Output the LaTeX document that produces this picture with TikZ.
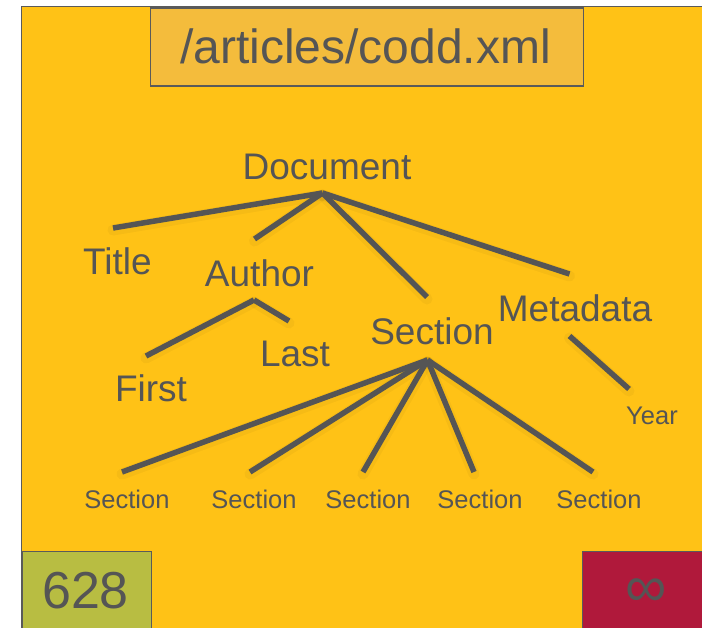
\documentclass[tikz,border=0pt]{standalone}
\usepackage{fontspec}
\setmainfont{Liberation Sans}
\definecolor{slidebg}{HTML}{FFC216}
\definecolor{headfill}{HTML}{F4BC3C}
\definecolor{numfill}{HTML}{B8BD42}
\definecolor{infill}{HTML}{B0193B}
\definecolor{ink}{HTML}{555555}
\definecolor{frame}{HTML}{5A5A5A}
\tikzset{
  big/.style={text=ink, inner sep=0pt, font=\fontsize{37}{40}\selectfont},
  small/.style={text=ink, inner sep=0pt, font=\fontsize{25.5}{28}\selectfont},
  edge/.style={draw=ink, line width=5.5pt, line cap=butt},
  halo/.style={draw=black, line width=11pt, line cap=round, opacity=0.035},
  panel/.style={draw=frame, line width=1.5pt},
}
\begin{document}
\begin{tikzpicture}[x=1pt, y=-1pt]
  \useasboundingbox (0,0) rectangle (702,627);
  % slide background and frame
  \fill[white] (0,0) rectangle (702,627);
  \fill[slidebg] (21.5,6.5) rectangle (703,628);
  \draw[panel] (21.5,628) -- (21.5,6.5) -- (703,6.5);
  % header box
  \node[panel, fill=headfill, minimum width=433pt, minimum height=78pt, anchor=north west,
        inner sep=0pt] (head) at (149.5,7) {};
  \node[text=ink, font=\fontsize{48}{52}\selectfont] (path) at (365.5,46) {/articles/codd.xml};
  % corner boxes
  \node[panel, fill=numfill, minimum width=129pt, minimum height=80pt, anchor=north west,
        inner sep=0pt] (numbox) at (21.5,550.5) {};
  \node[text=ink, font=\fontsize{52}{56}\selectfont] (num) at (85.5,591) {628};
  \node[panel, fill=infill, minimum width=125pt, minimum height=80pt, anchor=north west,
        inner sep=0pt] (infbox) at (581.5,550.5) {};
  \node[text=ink, font=\fontsize{58}{62}\selectfont] (inf) at (646,593) {∞};

  % tree labels
  \node[big] (doc) at (327,167) {Document};
  \node[big] (title) at (117.5,261) {Title};
  \node[big] (author) at (259.5,273) {Author};
  \node[big] (first) at (151,388) {First};
  \node[big] (last) at (295,354) {Last};
  \node[big] (sec) at (432,331) {Section};
  \node[big] (meta) at (575,308) {Metadata};
  \node[small] (year) at (652,416) {Year};
  \node[small] (s1) at (127,499) {Section};
  \node[small] (s2) at (254,499) {Section};
  \node[small] (s3) at (368,499) {Section};
  \node[small] (s4) at (480,499) {Section};
  \node[small] (s5) at (599,499) {Section};

  % hubs and branch ends
  \coordinate (docHub) at (322.5,193);
  \coordinate (titleEnd) at (113,228);
  \coordinate (authorEnd) at (254.5,239);
  \coordinate (secEnd) at (427,297);
  \coordinate (metaEnd) at (569.5,274);
  \coordinate (authorHub) at (254,300);
  \coordinate (firstEnd) at (146,356);
  \coordinate (lastEnd) at (289,321);
  \coordinate (secHub) at (427.5,360);
  \coordinate (s1End) at (122,472);
  \coordinate (s2End) at (250,472);
  \coordinate (s3End) at (363,472);
  \coordinate (s4End) at (474,472);
  \coordinate (s5End) at (593,472);
  \coordinate (metaTop) at (569.5,336);
  \coordinate (yearEnd) at (629,389);

  % soft shading under the branches
  \foreach \a/\b in {docHub/titleEnd, docHub/authorEnd, docHub/secEnd, docHub/metaEnd,
                     authorHub/firstEnd, authorHub/lastEnd,
                     secHub/s1End, secHub/s2End, secHub/s3End, secHub/s4End, secHub/s5End,
                     metaTop/yearEnd}
    \draw[halo] ([yshift=-2pt]\a) -- ([yshift=-2pt]\b);

  % branches
  \draw[edge] (docHub) -- (titleEnd);
  \draw[edge] (docHub) -- (authorEnd);
  \draw[edge] (docHub) -- (secEnd);
  \draw[edge] (docHub) -- (metaEnd);
  \draw[edge] (authorHub) -- (firstEnd);
  \draw[edge] (authorHub) -- (lastEnd);
  \draw[edge] (secHub) -- (s1End);
  \draw[edge] (secHub) -- (s2End);
  \draw[edge] (secHub) -- (s3End);
  \draw[edge] (secHub) -- (s4End);
  \draw[edge] (secHub) -- (s5End);
  \draw[edge] (metaTop) -- (yearEnd);
\end{tikzpicture}
\end{document}
